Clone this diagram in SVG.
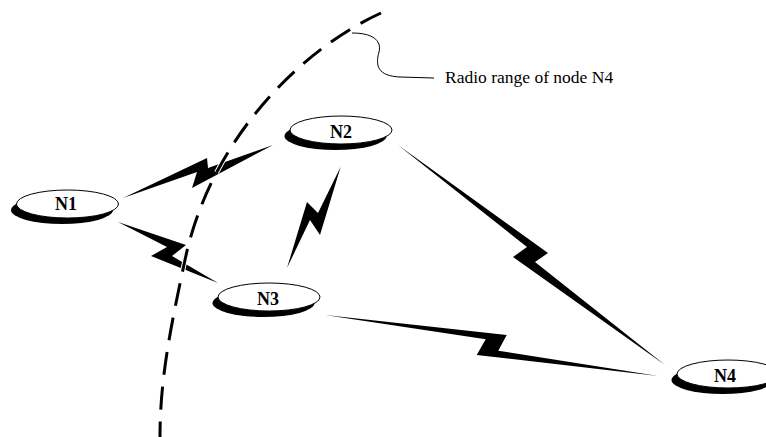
<svg xmlns="http://www.w3.org/2000/svg" width="766" height="437" viewBox="0 0 766 437">
<style>
.bolt{fill:#000;stroke:none}
.shadow{fill:#000}
.node{fill:#fff;stroke:#000;stroke-width:1}
.lbl{font-family:"Liberation Serif","Times New Roman",serif;font-weight:bold;font-size:18px;text-anchor:middle;fill:#000}
.note{font-family:"Liberation Serif","Times New Roman",serif;font-size:17.5px;fill:#000}
.range{fill:none;stroke:#000;stroke-width:3;stroke-dasharray:23 12}
.halo{fill:none;stroke:#fff;stroke-width:5;stroke-dasharray:23 12}
.leader{fill:none;stroke:#000;stroke-width:1}
</style>
<rect width="766" height="437" fill="#fff"/>
<g id="connectors">
  <polygon id="c-n1-n2" class="bolt" points="123,198 207,158 208,168 273,145 192,188 197,172"/>
  <polygon id="c-n1-n3" class="bolt" points="118,222 186,245 172,256 218,283 151,256 167,247"/>
  <polygon id="c-n2-n3" class="bolt" points="340.7,166.7 320,235 310,220 287,268 307,202 318,213"/>
  <polygon id="c-n2-n4" class="bolt" points="398,145 548,253 535,262 665,365 513,257 527,247"/>
  <polygon id="c-n3-n4" class="bolt" points="325,315 506.7,335 498.3,350.7 658.3,376 476.7,355 485.7,339.3"/>
</g>
<g id="radio-range">
  <path class="halo" d="M381,13 C300,50 210,140 185,260 C170,330 160,380 160,437"/>
  <path class="range" d="M381,13 C300,50 210,140 185,260 C170,330 160,380 160,437"/>
  <path class="leader" d="M352,33 C372,33 382,40 379,52 C375,66 378,76 400,77 L434,78"/>
  <text class="note" x="445" y="83">Radio range of node N4</text>
</g>
<g id="N1">
  <ellipse class="shadow" cx="62" cy="210" rx="51" ry="14"/>
  <ellipse class="node" cx="67.5" cy="204" rx="51" ry="14"/>
  <text class="lbl" x="66" y="210">N1</text>
</g>
<g id="N2">
  <ellipse class="shadow" cx="335.5" cy="136" rx="51" ry="14"/>
  <ellipse class="node" cx="341" cy="130" rx="51" ry="14"/>
  <text class="lbl" x="341" y="138">N2</text>
</g>
<g id="N3">
  <ellipse class="shadow" cx="263.5" cy="303" rx="51" ry="14"/>
  <ellipse class="node" cx="269" cy="297" rx="51" ry="14"/>
  <text class="lbl" x="268" y="305">N3</text>
</g>
<g id="N4">
  <ellipse class="shadow" cx="722.5" cy="380" rx="51" ry="14"/>
  <ellipse class="node" cx="728" cy="374" rx="51" ry="14"/>
  <text class="lbl" x="725" y="382">N4</text>
</g>
</svg>
